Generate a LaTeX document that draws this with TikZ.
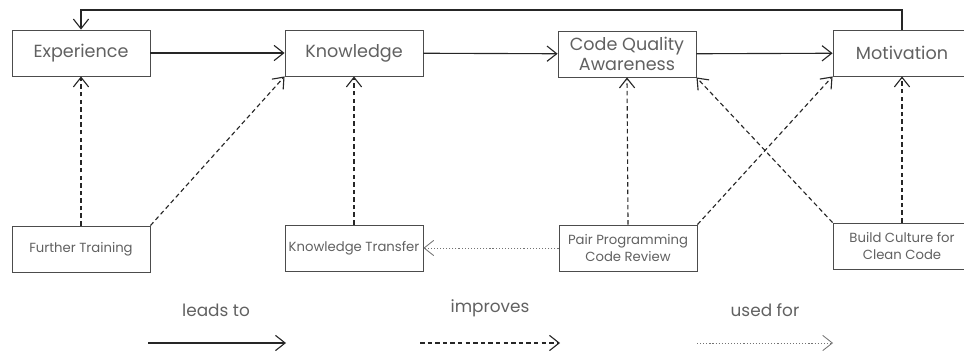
\documentclass[tikz,border=0pt]{standalone}
\usepackage{fontspec}
\setmainfont{Poppins}
\usetikzlibrary{arrows.meta,shadows}

\begin{document}
\begin{tikzpicture}[
    x=0.025cm,
    y=-0.025cm,
    every node/.style={inner sep=2pt, text=black!62},
    box/.style={draw=black!70, line width=0.6pt, fill=white,
        minimum width=3.45cm, minimum height=1.15cm, align=center,
        font=\fontsize{12.5}{14}\selectfont,
        drop shadow={shadow xshift=0.6pt, shadow yshift=-0.8pt, fill=black!30, opacity=0.6}},
    smallbox/.style={box, inner sep=0pt, font=\fontsize{9.4}{12}\selectfont},
    leads/.style={line width=0.8pt, black!85, -{Straight Barb[length=2.4mm, width=3.8mm]}},
    improves/.style={leads, dash pattern=on 3.2pt off 2.2pt},
    usedfor/.style={leads, black!55, line width=0.6pt, dash pattern=on 0.8pt off 1.4pt},
    legendtext/.style={font=\fontsize{12}{14}\selectfont}
]

\useasboundingbox (0,0) rectangle (964,354);


% Top row
\node[box] (exp) at (81,53) {Experience};
\node[box] (know) at (354,53) {Knowledge};
\node[box] (cqa) at (627,54) {Code Quality\\Awareness};
\node[box] (mot) at (902,53) {Motivation};


% Bottom row
\node[smallbox] (ft) at (81,249) {Further Training};
\node[smallbox] (kt) at (354,248) {Knowledge Transfer};
\node[smallbox] (pp) at (628,248) {Pair Programming\\Code Review};
\node[smallbox] (bc) at (902,246) {Build Culture for\\Clean Code};


% Leads to
\draw[leads] (exp) -- (know);
\draw[leads] (know) -- (cqa);
\draw[leads] (cqa) -- (mot);
\coordinate (back) at (81,10);
\draw[leads] (mot.north) |- (back) -- (exp.north);


% Improves
\draw[improves] (ft.north) -- (exp.south);
\draw[improves] (ft.north east) -- (know.south west);
\draw[improves] (kt.north) -- (know.south);
\draw[improves] (pp.north) -- (cqa.south);
\draw[improves] (pp.north east) -- (mot.south west);
\draw[improves] (bc.north) -- (mot.south);
\draw[improves] (bc.north west) -- (cqa.south east);


% Used for
\draw[usedfor] (pp.west) -- (kt.east);


% Legend
\node[legendtext] (lt1) at (216,310) {leads to};
\node[legendtext] (lt2) at (490,308) {improves};
\node[legendtext] (lt3) at (765,310) {used for};
\coordinate (la1) at (148,343);
\coordinate (lb1) at (286,343);
\coordinate (la2) at (420,343);
\coordinate (lb2) at (560,343);
\coordinate (la3) at (697,343);
\coordinate (lb3) at (833,343);
\draw[leads] (la1) -- (lb1);
\draw[improves] (la2) -- (lb2);
\draw[usedfor] (la3) -- (lb3);


\end{tikzpicture}
\end{document}
